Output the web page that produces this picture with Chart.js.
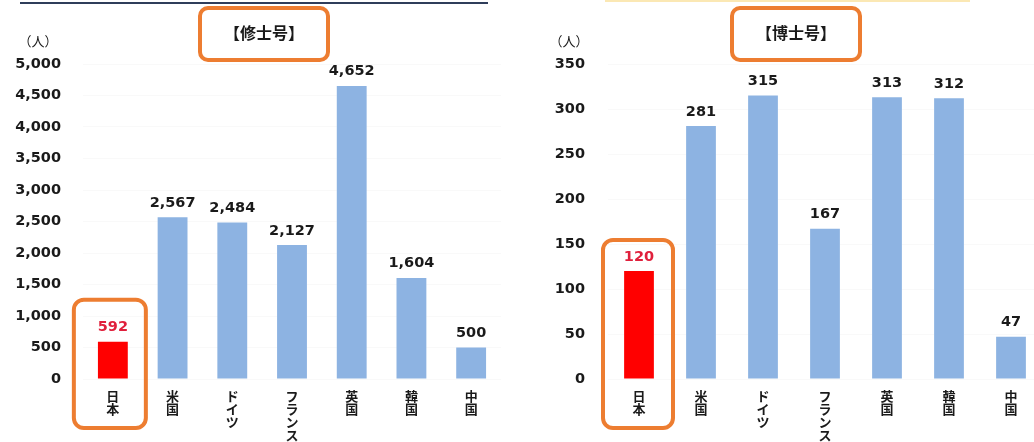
<!DOCTYPE html>
<html>
<head>
<meta charset="utf-8">
<script src="https://cdn.jsdelivr.net/npm/chart.js@4.4.1/dist/chart.umd.min.js"></script>
<style>
html, body { margin: 0; padding: 0; background: #fff; }
#wrap { position: relative; width: 1034px; height: 442px; overflow: hidden; }
.panel { position: absolute; top: 0; height: 442px; }
#leftPanel { left: 0; width: 520px; }
#rightPanel { left: 520px; width: 552px; }
#lineL { position: absolute; left: 20px; top: 2px; width: 468px; height: 2px; background: #2f3d5a; }
#lineR { position: absolute; left: 605px; top: 0; width: 365px; height: 2px; background: #fbe8b4; }
</style>
</head>
<body>
<div id="wrap">
  <div id="lineL"></div>
  <div id="lineR"></div>
  <div class="panel" id="leftPanel"><canvas id="masterChart"></canvas></div>
  <div class="panel" id="rightPanel"><canvas id="doctorChart"></canvas></div>
</div>
<script>
// Data
const categories = ["日本", "米国", "ドイツ", "フランス", "英国", "韓国", "中国"];
const masterValues = [592, 2567, 2484, 2127, 4652, 1604, 500];
const doctorValues = [120, 281, 315, 167, 313, 312, 47];
const masterAxis = { max: 5000, step: 500 };
const doctorAxis = { max: 350, step: 50 };
const unitLabel = "（人）";

// Colors
const blue = "#8db3e2";
const red = "#ff0000";
const orange = "#ed7d31";
const textColor = "#1a1a1a";

const numFont = "'DejaVu Sans', Verdana, sans-serif";
const jpFont = "'Noto Sans CJK JP', sans-serif";

// vertical category labels: one character per line
const stackedLabels = categories.map(c => c.split(""));

function roundRect(ctx, x, y, w, h, r) {
  ctx.beginPath();
  ctx.moveTo(x + r, y);
  ctx.arcTo(x + w, y, x + w, y + h, r);
  ctx.arcTo(x + w, y + h, x, y + h, r);
  ctx.arcTo(x, y + h, x, y, r);
  ctx.arcTo(x, y, x + w, y, r);
  ctx.closePath();
}

// Title, value labels, unit label and orange highlight boxes
const decorPlugin = {
  id: "decor",
  afterDatasetsDraw(chart, args, opts) {
    const ctx = chart.ctx;
    const meta = chart.getDatasetMeta(0);
    const data = chart.data.datasets[0].data;
    ctx.save();
    ctx.textAlign = "center";
    ctx.textBaseline = "bottom";
    ctx.font = "bold 14.5px " + numFont;
    meta.data.forEach((bar, i) => {
      ctx.fillStyle = i === 0 ? "#e0203c" : textColor;
      ctx.fillText(data[i].toLocaleString("en-US"), bar.x, bar.y - opts.labelGap);
    });

    // unit label above the y axis
    ctx.font = "13px " + jpFont;
    ctx.fillStyle = textColor;
    ctx.textBaseline = "middle";
    ctx.fillText(unitLabel, chart.chartArea.left - opts.unitOffset, 41);

    // title with box
    const cx = opts.titleX;
    const cy = 33;
    ctx.font = "bold 16px " + jpFont;
    ctx.fillText(opts.title, cx, cy);
    ctx.strokeStyle = orange;
    ctx.lineWidth = 4;
    roundRect(ctx, cx - 64, cy - 25, 128, 52, 8);
    ctx.stroke();

    // box around 日本
    const first = meta.data[0];
    const bx = chart.scales.x.getPixelForValue(0) + opts.boxShift;
    roundRect(ctx, bx - opts.boxWidth / 2, first.y - opts.boxTop, opts.boxWidth, 428 - (first.y - opts.boxTop), 10);
    ctx.stroke();
    ctx.restore();
  }
};

function makeChart(id, values, axis, cfg) {
  return new Chart(document.getElementById(id), {
    type: "bar",
    data: {
      labels: stackedLabels,
      datasets: [{
        data: values,
        backgroundColor: values.map((v, i) => i === 0 ? red : blue),
        barPercentage: cfg.barPct,
        categoryPercentage: 1
      }]
    },
    options: {
      responsive: false,
      animation: false,
      layout: { padding: { left: 0, right: cfg.padRight, top: 64, bottom: 0 } },
      plugins: {
        legend: { display: false },
        tooltip: { enabled: false },
        title: { display: false },
        decor: cfg.decor
      },
      scales: {
        x: {
          grid: { display: false, drawTicks: false },
          border: { display: false },
          ticks: {
            color: textColor,
            padding: 10,
            maxRotation: 0,
            autoSkip: false,
            font: { family: jpFont, size: 13, weight: "bold", lineHeight: 1.02 }
          },
          afterFit(scale) { scale.height = 63; }
        },
        y: {
          min: 0,
          max: axis.max,
          grid: { color: "rgba(0,0,0,0.022)", drawTicks: false },
          border: { display: false },
          ticks: {
            stepSize: axis.step,
            color: textColor,
            padding: cfg.tickPad,
            font: { family: numFont, size: 14.5, weight: "bold" },
            callback: v => v.toLocaleString("en-US")
          },
          afterFit(scale) { scale.width = cfg.axisWidth; }
        }
      }
    },
    plugins: [decorPlugin]
  });
}

const c1 = document.getElementById("masterChart");
c1.width = 520; c1.height = 442;
const c2 = document.getElementById("doctorChart");
c2.width = 552; c2.height = 442;

makeChart("masterChart", masterValues, masterAxis, {
  barPct: 0.5,
  padRight: 19,
  axisWidth: 83,
  tickPad: 22,
  decor: { title: "【修士号】", titleX: 264, labelGap: 7, unitOffset: 45, boxWidth: 72, boxShift: -3, boxTop: 42 }
});

makeChart("doctorChart", doctorValues, doctorAxis, {
  barPct: 0.48,
  padRight: 30,
  axisWidth: 88,
  tickPad: 23,
  decor: { title: "【博士号】", titleX: 276, labelGap: 7, unitOffset: 39, boxWidth: 70, boxShift: -1, boxTop: 31 }
});
</script>
</body>
</html>
